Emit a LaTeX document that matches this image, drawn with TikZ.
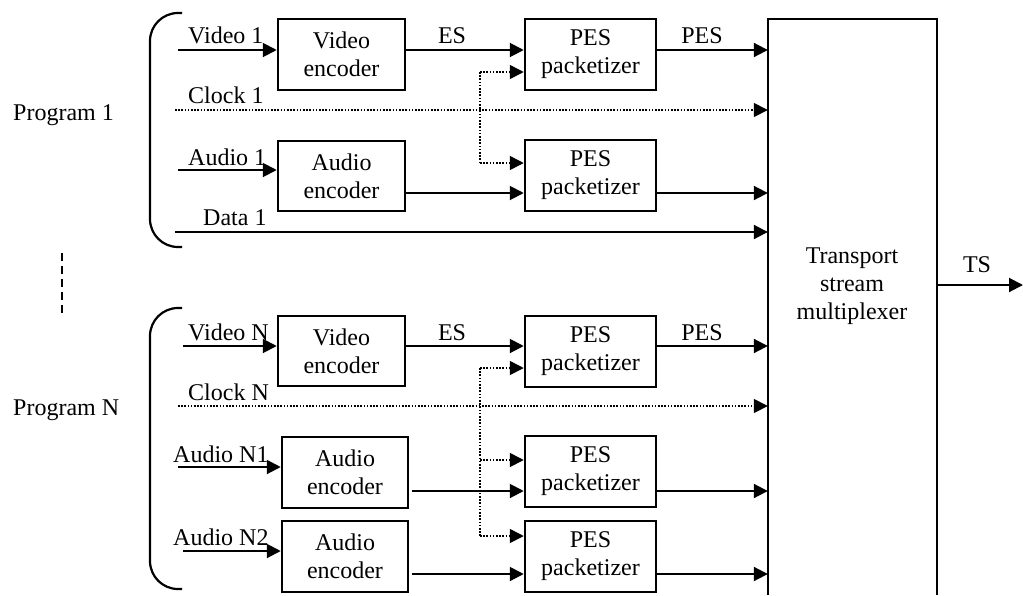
\documentclass[tikz,border=0pt]{standalone}
\usepackage{fontspec}
\setmainfont{Liberation Serif}
\usetikzlibrary{arrows.meta,calc}
\begin{document}
\begin{tikzpicture}[x=1pt,y=-1pt,
  font=\fontsize{24}{28}\selectfont,
  blk/.style={draw,line width=2.5pt,align=center,inner sep=0pt,minimum height=71pt},
  wire/.style={line width=2pt},
  arr/.style={wire,-{Triangle[length=14pt,width=14pt]}},
  dotw/.style={line width=1.6pt,dash pattern=on 1.6pt off 1.6pt},
  dotarr/.style={dotw,-{Triangle[length=14pt,width=14pt]}},
  lbl/.style={inner sep=0pt,anchor=base west},
  lblc/.style={inner sep=0pt,anchor=base},
  brace/.style={line width=2.2pt,rounded corners=28pt}]
\useasboundingbox (0,0) rectangle (1023,595);

% ---------- multiplexer (open at the bottom) ----------
\node[minimum width=169pt,minimum height=576pt,inner sep=0pt] (mux) at (852.5,307) {};
\draw[line width=2.5pt] (mux.south west) -- (mux.north west) -- (mux.north east) -- (mux.south east);
\node[align=center,inner sep=0pt] (muxtxt) at (852,286) {Transport\\stream\\multiplexer};
\coordinate (tsend) at (1023,285);
\draw[arr] (tsend -| mux.east) -- (tsend);
\node[lblc] (tslbl) at (977,272) {TS};

% ---------- program labels ----------
\node[lbl] (p1) at (13,120) {Program 1};
\node[lbl] (pN) at (13,415) {Program N};
\draw[line width=1.5pt,dash pattern=on 8pt off 5pt] (62,253) -- (62,317);

% ---------- brackets ----------
\draw[brace] (182,13) -- (150,13) -- (150,247) -- (182,247);
\draw[brace] (182,308) -- (150,308) -- (150,589) -- (182,589);

% ---------- program 1 ----------
\node[blk,minimum width=127pt] (venc1) at (341.5,54.5) {Video\\encoder};
\node[blk,minimum width=131pt] (pes1) at (590.5,54.5) {PES\\packetizer};
\node[blk,minimum width=127pt,minimum height=70pt] (aenc1) at (341.5,176) {Audio\\encoder};
\node[blk,minimum width=131pt] (pes2) at (590.5,175.5) {PES\\packetizer};

\coordinate (v1) at (178,50);
\coordinate (k1) at (175,110);
\coordinate (a1) at (178,170);
\coordinate (a1o) at (405,193);
\coordinate (d1) at (175,232);
\coordinate (t1a) at (480,72);
\coordinate (t1b) at (480,163);

\draw[arr] (v1) -- (v1 -| venc1.west);
\draw[arr] (v1 -| venc1.east) -- (v1 -| pes1.west);
\draw[arr] (v1 -| pes1.east) -- (v1 -| mux.west);
\draw[dotarr] (k1) -- (k1 -| mux.west);
\draw[dotw] (t1a) -- (t1b);
\draw[dotarr] (t1a) -- (t1a -| pes1.west);
\draw[dotarr] (t1b) -- (t1b -| pes2.west);
\draw[arr] (a1) -- (a1 -| aenc1.west);
\draw[arr] (a1o -| aenc1.east) -- (a1o -| pes2.west);
\draw[arr] (a1o -| pes2.east) -- (a1o -| mux.west);
\draw[arr] (d1) -- (d1 -| mux.west);

\node[lbl] (v1l) at (188,43) {Video 1};
\node[lbl] (k1l) at (188,103) {Clock 1};
\node[lbl] (a1l) at (188,165) {Audio 1};
\node[lbl] (d1l) at (203,225) {Data 1};
\node[lblc] (es1) at (452,43) {ES};
\node[lblc] (pesl1) at (702,43) {PES};

% ---------- program N ----------
\node[blk,minimum width=127pt,minimum height=70pt] (vencN) at (341.5,351) {Video\\encoder};
\node[blk,minimum width=131pt] (pes3) at (590.5,351.5) {PES\\packetizer};
\node[blk,minimum width=126pt] (aencN1) at (345,472.5) {Audio\\encoder};
\node[blk,minimum width=131pt] (pes4) at (590.5,471.5) {PES\\packetizer};
\node[blk,minimum width=126pt] (aencN2) at (345,556.5) {Audio\\encoder};
\node[blk,minimum width=131pt] (pes5) at (590.5,556.5) {PES\\packetizer};

\coordinate (vN) at (183,346);
\coordinate (kN) at (178,406);
\coordinate (n1) at (178,467);
\coordinate (n1o) at (412,491);
\coordinate (n2) at (183,551);
\coordinate (n2o) at (412,574);
\coordinate (tNa) at (480,368);
\coordinate (tNb) at (480,460);
\coordinate (tNc) at (480,536);

\draw[arr] (vN) -- (vN -| vencN.west);
\draw[arr] (vN -| vencN.east) -- (vN -| pes3.west);
\draw[arr] (vN -| pes3.east) -- (vN -| mux.west);
\draw[dotarr] (kN) -- (kN -| mux.west);
\draw[dotw] (tNa) -- (tNc);
\draw[dotarr] (tNa) -- (tNa -| pes3.west);
\draw[dotarr] (tNb) -- (tNb -| pes4.west);
\draw[dotarr] (tNc) -- (tNc -| pes5.west);
\draw[arr] (n1) -- (n1 -| aencN1.west);
\draw[arr] (n1o) -- (n1o -| pes4.west);
\draw[arr] (n1o -| pes4.east) -- (n1o -| mux.west);
\draw[arr] (n2) -- (n2 -| aencN2.west);
\draw[arr] (n2o) -- (n2o -| pes5.west);
\draw[arr] (n2o -| pes5.east) -- (n2o -| mux.west);

\node[lbl] (vNl) at (188,340) {Video N};
\node[lbl] (kNl) at (188,400) {Clock N};
\node[lbl] (n1l) at (173,462) {Audio N1};
\node[lbl] (n2l) at (173,545) {Audio N2};
\node[lblc] (esN) at (452,340) {ES};
\node[lblc] (peslN) at (702,340) {PES};
\end{tikzpicture}
\end{document}
